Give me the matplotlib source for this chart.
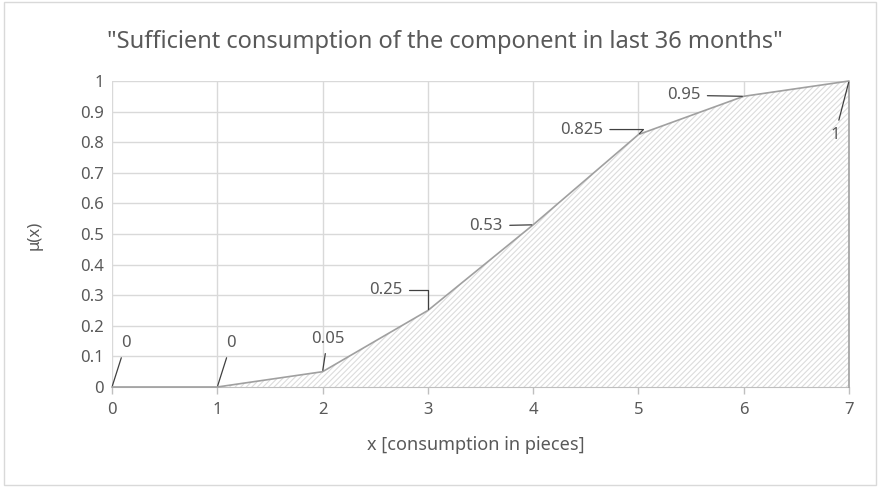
import matplotlib
matplotlib.use("Agg")
import matplotlib.pyplot as plt
from matplotlib.patches import Rectangle

plt.rcParams['font.family'] = ['Noto Sans', 'DejaVu Sans']
plt.rcParams['hatch.linewidth'] = 0.8

x_vals = [0, 1, 2, 3, 4, 5, 6, 7]
mu_vals = [0, 0, 0.05, 0.25, 0.53, 0.825, 0.95, 1]
point_labels = ["0", "0", "0.05", "0.25", "0.53", "0.825", "0.95", "1"]
title = '"Sufficient consumption of the component in last 36 months"'
xlabel = "x [consumption in pieces]"
ylabel = "μ(x)"

# label offsets in pixels (dx, dy) and connection styles
offsets = [(14, 44), (14, 44), (5, 33), (-42, 21), (-47, -1), (-57, 5), (-60, 1), (-14, -54)]
conns = ["arc3", "arc3", "arc3", "angle,angleA=0,angleB=90,rad=0", "arc3",
         "angle,angleA=0,angleB=45,rad=0", "arc3", "arc3"]

TXT = '#595959'
fig = plt.figure(figsize=(8.8, 4.87), dpi=100)
fig.patch.set_facecolor('white')
fig.patches.append(Rectangle((0.004, 0.004), 0.992, 0.992, transform=fig.transFigure,
                             fill=False, edgecolor='#d9d9d9', linewidth=1))
ax = fig.add_axes([112/880, 1-387/487, (849-112)/880, (387-81)/487])
ax.set_xlim(0, 7)
ax.set_ylim(0, 1)
ax.set_xticks(range(0, 8))
ax.set_yticks([i/10 for i in range(11)])
ax.set_yticklabels(["0", "0.1", "0.2", "0.3", "0.4", "0.5", "0.6", "0.7", "0.8", "0.9", "1"])
ax.grid(True, color='#d9d9d9', linewidth=1)
ax.set_axisbelow(True)
for s in ['top', 'right', 'left']:
    ax.spines[s].set_visible(False)
ax.spines['bottom'].set_color('#bfbfbf')
ax.tick_params(axis='y', length=0, pad=6, labelcolor=TXT, labelsize=12)
ax.tick_params(axis='x', length=5, width=1, color='#bfbfbf', pad=6, labelcolor=TXT, labelsize=12)

ax.fill_between(x_vals, mu_vals, facecolor='white', hatch='//////', edgecolor='#dcdcdc',
                linewidth=0, zorder=2)
ax.plot(x_vals + [x_vals[-1]], mu_vals + [0], color='#a0a0a0', linewidth=1.2, zorder=3,
        clip_on=False)

for xv, yv, lab, off, cs in zip(x_vals, mu_vals, point_labels, offsets, conns):
    ax.annotate(lab, xy=(xv, yv), xytext=off, textcoords='offset pixels',
                ha='center', va='center', fontsize=12, color=TXT, zorder=5,
                annotation_clip=False,
                arrowprops=dict(arrowstyle='-', color='#404040', lw=0.9,
                                shrinkA=3, shrinkB=1, connectionstyle=cs))

fig.text(445/880, 1-42/487, title, ha='center', va='center', fontsize=17, color=TXT)
fig.text(476/880, 1-445/487, xlabel, ha='center', va='center', fontsize=13, color=TXT)
fig.text(35/880, 1-235/487, ylabel, ha='center', va='center', fontsize=12, color=TXT,
         rotation=90)

fig.savefig('out.png', dpi=100)
